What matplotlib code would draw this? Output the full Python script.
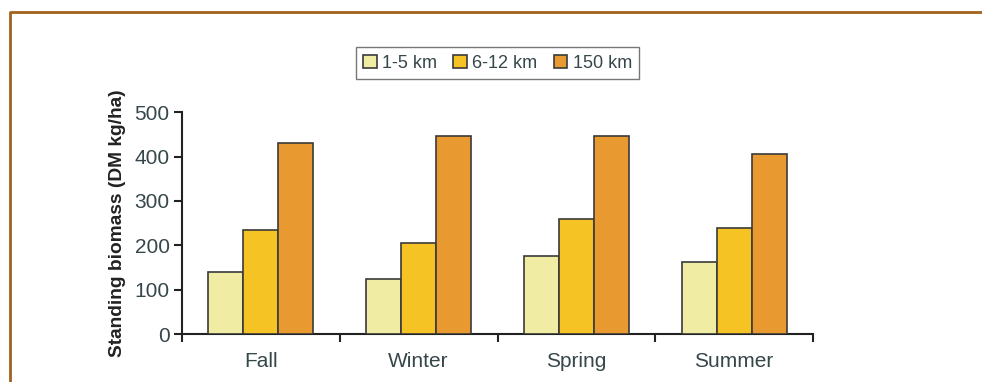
import matplotlib
matplotlib.use("Agg")
import matplotlib.pyplot as plt
import numpy as np
from matplotlib.lines import Line2D

seasons = ["Fall", "Winter", "Spring", "Summer"]
series_names = ["1-5 km", "6-12 km", "150 km"]
biomass_1_5 = [139, 125, 175, 163]
biomass_6_12 = [235, 205, 260, 240]
biomass_150 = [430, 446, 446, 405]
y_ticks = [0, 100, 200, 300, 400, 500]

colors = ["#F0ECA4", "#F5C324", "#E89A31"]
text_color = "#36474A"

plt.rcParams["font.family"] = ["Liberation Sans", "DejaVu Sans"]

fig = plt.figure(figsize=(9.82, 3.82), dpi=100)
ax = fig.add_axes([182 / 982, 1 - 334 / 382, (813 - 182) / 982, (334 - 112.3) / 382])

x = np.arange(len(seasons))
width = 0.222
handles = []
for i, (vals, name) in enumerate(zip([biomass_1_5, biomass_6_12, biomass_150], series_names)):
    b = ax.bar(x + (i - 1) * width, vals, width, color=colors[i],
               edgecolor="#3a3a3a", linewidth=1.2, label=name, zorder=3)
    handles.append(b)

ax.set_xlim(-0.5, len(seasons) - 0.5)
ax.set_ylim(0, 500)
ax.set_yticks(y_ticks)
ax.set_xticks(np.arange(-0.5, len(seasons), 1.0))
ax.set_xticklabels([])
ax.set_xticks(x, minor=True)
ax.set_xticklabels(seasons, minor=True, fontsize=15, color=text_color)
ax.tick_params(axis="x", which="minor", length=0, pad=13)
ax.tick_params(axis="x", which="major", length=6, width=1.5, direction="out", color="#222")
ax.tick_params(axis="y", length=6, width=1.5, direction="out", color="#222",
               labelsize=15, labelcolor=text_color, pad=3)

for s in ["top", "right"]:
    ax.spines[s].set_visible(False)
for s in ["left", "bottom"]:
    ax.spines[s].set_linewidth(1.5)
    ax.spines[s].set_color("#222")

ax.set_ylabel("Standing biomass (DM kg/ha)", fontsize=13.8, fontweight="bold",
              color="#222", labelpad=6)

leg = ax.legend(handles=handles, loc="center",
                bbox_to_anchor=(0.5, (334 - 63) / (334 - 112.3)),
                ncol=3, fontsize=13, frameon=True, fancybox=False, edgecolor="#555",
                handlelength=0.75, handleheight=0.75, handletextpad=0.3, columnspacing=0.9,
                borderpad=0.4)
leg.get_frame().set_linewidth(1.0)
for t in leg.get_texts():
    t.set_color(text_color)

# decorative frame along the top and left edges
fig.add_artist(Line2D([9.5 / 982, 9.5 / 982, 1.0], [0.0, 1 - 12 / 382, 1 - 12 / 382],
                      transform=fig.transFigure, color="#A0631C", linewidth=2.0))

fig.savefig("out.png", dpi=100)
